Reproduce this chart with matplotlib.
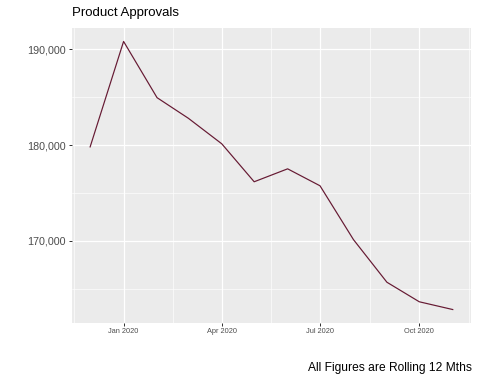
import matplotlib
matplotlib.use('Agg')
import matplotlib.pyplot as plt
import matplotlib.dates as mdates
import matplotlib.ticker as mticker
import numpy as np
import pandas as pd

plt.rcParams['font.family'] = ['Liberation Sans', 'DejaVu Sans']

# rolling 12-month approvals
months = pd.date_range('2019-12-01', '2020-11-01', freq='MS')
approvals = [179820, 190830, 184960, 182810, 180140, 176180,
             177530, 175760, 170140, 165690, 163650, 162840]

major_dates = ['2019-10-01', '2020-01-01', '2020-04-01', '2020-07-01', '2020-10-01', '2021-01-01']
tick_labels = ['Jan 2020', 'Apr 2020', 'Jul 2020', 'Oct 2020']

fig = plt.figure(figsize=(480 / 72, 384 / 72), dpi=72)
ax = fig.add_axes([0.15, 0.159, 0.831, 0.768])
ax.set_facecolor('#EBEBEB')
for s in ax.spines.values():
    s.set_visible(False)

ax.plot(months, approvals, color='#661A33', lw=1.2, zorder=3)

# ggplot-like expansion (5%)
xn = mdates.date2num(months)
xr = xn.max() - xn.min()
ax.set_xlim(xn.min() - 0.05 * xr, xn.max() + 0.05 * xr)
yr = max(approvals) - min(approvals)
ax.set_ylim(min(approvals) - 0.05 * yr, max(approvals) + 0.05 * yr)

majn = mdates.date2num(pd.to_datetime(major_dates))
ax.xaxis.set_major_locator(mticker.FixedLocator(majn[1:-1]))
ax.xaxis.set_major_formatter(mticker.FixedFormatter(tick_labels))
ax.xaxis.set_minor_locator(mticker.FixedLocator((majn[:-1] + majn[1:]) / 2))

ax.yaxis.set_major_locator(mticker.FixedLocator([170000, 180000, 190000]))
ax.yaxis.set_minor_locator(mticker.FixedLocator([165000, 175000, 185000]))
ax.yaxis.set_major_formatter(mticker.FuncFormatter(lambda v, p: f'{v:,.0f}'))

ax.grid(which='major', color='white', lw=1.2)
ax.grid(which='minor', color='white', lw=0.6)
ax.set_axisbelow(True)

ax.tick_params(which='major', length=3, width=1, color='#333333')
ax.tick_params(which='minor', length=0)
ax.tick_params(axis='y', labelsize=10.8, labelcolor='#4D4D4D', pad=3)
ax.tick_params(axis='x', labelsize=7.4, labelcolor='#4D4D4D', pad=2.5)

fig.text(72 / 480, 1 - 13 / 384, 'Product Approvals', fontsize=13.2, ha='left', va='center')
fig.text(472 / 480, 1 - 368 / 384, 'All Figures are Rolling 12 Mths', fontsize=12, ha='right', va='center')

fig.savefig('out.png', dpi=72)
